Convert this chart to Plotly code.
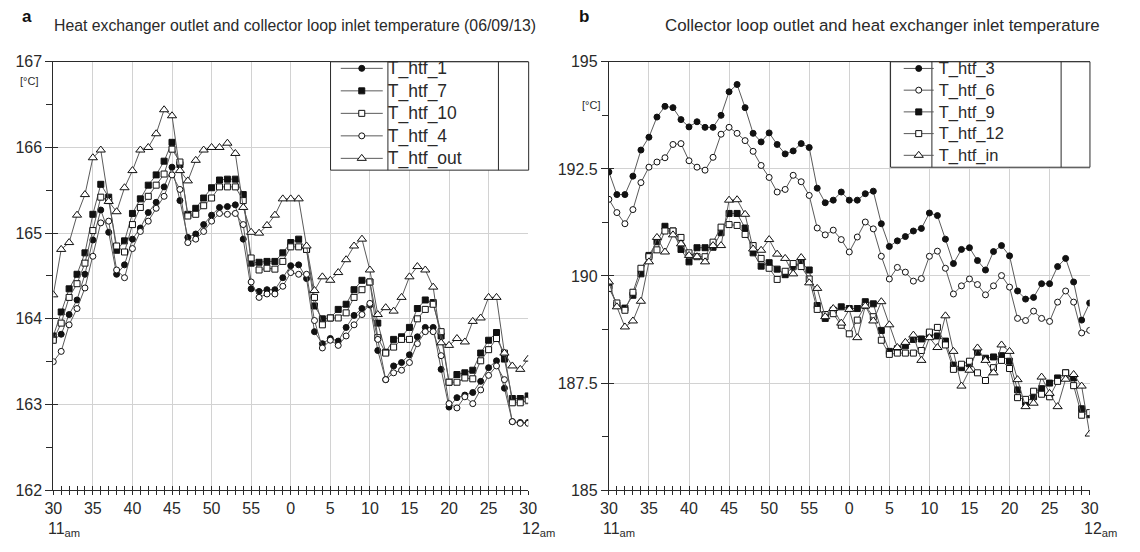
import plotly.graph_objects as go

# ---------------- data ----------------
minutes = list(range(61))  # 11:30 ... 12:30, one point per minute
tick_vals = list(range(0, 61, 5))
tick_text = ["30", "35", "40", "45", "50", "55", "0", "5", "10", "15", "20", "25", "30"]

# Panel a: heat exchanger outlet / collector loop inlet
a_htf_1 = [163.75, 163.82, 164.05, 164.22, 164.52, 164.92, 165.27, 165.01, 164.52, 164.63,
           164.93, 165.06, 165.24, 165.36, 165.54, 165.77, 165.38, 164.95, 164.99, 165.10,
           165.21, 165.30, 165.31, 165.33, 164.93, 164.35, 164.32, 164.34, 164.34, 164.48,
           164.62, 164.63, 164.47, 163.85, 163.71, 163.77, 163.74, 163.90, 164.04, 164.12,
           164.16, 163.63, 163.29, 163.45, 163.49, 163.58, 163.79, 163.90, 163.90, 163.41,
           162.97, 163.08, 163.11, 163.14, 163.27, 163.43, 163.51, 163.19, 162.80, 162.79,
           162.79]
a_htf_7 = [163.80, 164.08, 164.35, 164.52, 164.77, 165.22, 165.57, 165.42, 164.80, 164.91,
           165.23, 165.40, 165.56, 165.68, 165.84, 166.06, 165.80, 165.22, 165.29, 165.41,
           165.53, 165.62, 165.63, 165.63, 165.45, 164.65, 164.66, 164.67, 164.67, 164.77,
           164.89, 164.93, 164.81, 164.15, 164.00, 164.01, 164.11, 164.17, 164.34, 164.45,
           164.43, 163.95, 163.61, 163.76, 163.79, 163.90, 164.12, 164.22, 164.19, 163.80,
           163.26, 163.35, 163.37, 163.40, 163.60, 163.75, 163.84, 163.53, 163.07, 163.07,
           163.10]
a_htf_10 = [163.75, 163.95, 164.25, 164.41, 164.65, 165.03, 165.42, 165.38, 164.85, 164.78,
            165.10, 165.30, 165.43, 165.56, 165.69, 165.98, 165.83, 165.20, 165.22, 165.32,
            165.41, 165.54, 165.54, 165.54, 165.38, 164.71, 164.57, 164.59, 164.58, 164.67,
            164.84, 164.84, 164.81, 164.25, 163.93, 164.01, 164.01, 164.07, 164.25, 164.34,
            164.43, 163.78, 163.60, 163.67, 163.76, 163.76, 164.00, 164.11, 164.17, 163.85,
            163.26, 163.26, 163.31, 163.30, 163.51, 163.64, 163.77, 163.60, 163.02, 163.02,
            163.05]
a_htf_4 = [163.50, 163.62, 163.93, 164.12, 164.36, 164.73, 165.12, 165.14, 164.57, 164.48,
           164.82, 165.02, 165.14, 165.29, 165.43, 165.68, 165.51, 164.89, 164.93, 165.02,
           165.14, 165.23, 165.22, 165.23, 165.10, 164.43, 164.25, 164.29, 164.29, 164.38,
           164.54, 164.52, 164.52, 163.98, 163.66, 163.75, 163.69, 163.80, 163.93, 164.05,
           164.18, 163.76, 163.29, 163.37, 163.40, 163.49, 163.71, 163.85, 163.85, 163.57,
           163.01, 162.96, 163.09, 163.01, 163.17, 163.34, 163.45, 163.29, 162.80, 162.78,
           162.78]
a_htf_out = [164.28, 164.81, 164.89, 165.21, 165.45, 165.88, 165.97, 165.37, 165.25, 165.53,
             165.73, 165.97, 166.00, 166.16, 166.44, 166.37, 165.73, 165.61, 165.85, 165.97,
             166.00, 166.00, 166.05, 165.93, 165.30, 165.01, 165.00, 165.09, 165.21, 165.40,
             165.40, 165.40, 164.85, 164.33, 164.49, 164.45, 164.54, 164.69, 164.85, 164.93,
             164.57, 164.05, 164.13, 164.09, 164.25, 164.49, 164.61, 164.57, 164.37, 163.72,
             163.69, 163.77, 163.73, 163.97, 164.01, 164.25, 164.25, 163.60, 163.45, 163.41,
             163.53]

# Panel b: collector loop outlet / heat exchanger inlet
b_htf_3 = [192.43, 191.90, 191.90, 192.33, 192.94, 193.24, 193.71, 193.96, 193.93, 193.65,
           193.48, 193.60, 193.47, 193.47, 193.75, 194.30, 194.47, 193.93, 193.33, 193.13,
           193.34, 193.07, 192.85, 192.92, 193.09, 193.00, 192.05, 191.71, 191.77, 191.96,
           191.77, 191.77, 191.92, 191.98, 191.22, 190.69, 190.82, 190.92, 191.05, 191.11,
           191.47, 191.41, 190.86, 190.29, 190.62, 190.66, 190.36, 190.14, 190.57, 190.71,
           190.47, 189.65, 189.46, 189.50, 189.82, 189.82, 190.22, 190.41, 189.86, 188.97,
           189.37]
b_htf_6 = [191.79, 191.48, 191.22, 191.55, 192.18, 192.54, 192.66, 192.76, 193.07, 193.09,
           192.69, 192.54, 192.47, 192.77, 193.31, 193.47, 193.33, 193.16, 192.91, 192.58,
           192.30, 191.96, 192.02, 192.35, 192.20, 191.88, 191.12, 190.96, 191.07, 190.85,
           190.56, 190.91, 191.26, 191.10, 190.46, 189.93, 190.20, 190.09, 189.88, 189.94,
           190.46, 190.58, 190.18, 189.58, 189.77, 189.93, 189.80, 189.56, 189.77, 190.01,
           189.74, 189.01, 188.96, 189.18, 189.01, 188.94, 189.39, 189.65, 189.39, 188.67,
           188.73]
b_htf_9 = [189.77, 189.32, 189.25, 189.55, 190.05, 190.48, 190.80, 191.16, 191.05, 190.62,
           190.33, 190.66, 190.66, 190.67, 191.01, 191.46, 191.46, 191.12, 190.54, 190.23,
           190.31, 190.16, 190.03, 190.22, 190.31, 190.14, 189.31, 189.01, 189.20, 189.28,
           189.24, 189.24, 189.40, 189.35, 188.73, 188.24, 188.30, 188.37, 188.52, 188.53,
           188.65, 188.60, 188.48, 187.92, 187.86, 187.95, 188.22, 188.08, 188.11, 188.14,
           188.01, 187.34, 187.05, 187.18, 187.37, 187.50, 187.62, 187.74, 187.62, 186.90,
           186.76]
b_htf_12 = [189.71, 189.37, 189.20, 189.62, 190.18, 190.45, 190.61, 191.05, 191.05, 190.90,
            190.54, 190.45, 190.45, 190.79, 191.14, 191.20, 191.18, 190.97, 190.71, 190.41,
            190.18, 189.92, 190.11, 190.29, 190.22, 189.93, 189.22, 189.10, 189.12, 188.85,
            188.65, 188.97, 189.31, 189.05, 188.50, 188.17, 188.20, 188.20, 188.20, 188.26,
            188.69, 188.80, 188.39, 187.82, 187.94, 188.01, 187.74, 187.56, 187.86, 188.03,
            187.84, 187.16, 187.12, 187.31, 187.24, 187.18, 187.54, 187.74, 187.44, 186.75,
            186.81]
b_htf_in = [189.86, 189.28, 188.81, 188.95, 189.41, 190.33, 190.90, 190.56, 190.96, 190.75,
            190.48, 190.45, 190.33, 190.71, 190.71, 191.77, 191.78, 191.44, 190.63, 190.60,
            190.85, 190.51, 190.41, 190.05, 190.43, 189.84, 189.71, 189.05, 189.24, 188.90,
            189.22, 188.56, 189.30, 188.95, 189.40, 188.86, 188.33, 188.45, 188.62, 188.03,
            188.56, 188.33, 189.07, 188.24, 187.43, 187.80, 188.32, 188.03, 187.74, 188.39,
            188.24, 187.58, 186.95, 187.03, 187.64, 187.26, 186.95, 187.59, 187.70, 187.43,
            186.31]

# ---------------- layout helpers ----------------
W, H = 1140, 552
FONT = "Arial, Liberation Sans, sans-serif"
INK = "#2a2a2a"
GRID = "#d2d2d2"
LINE_C = "#5a5a5a"


def fx(x):
    return x / W


def fy(y):
    return 1 - y / H


A_X = (45, 527.5)
B_X = (609.5, 1098)
P_Y = (55.5, 497.5)

fig = go.Figure()


def add_series(name, y, symbol, filled, size, xa, ya, legend, label_px):
    fig.add_trace(go.Scatter(
        x=minutes, y=y, mode="lines+markers",
        name='<span style="font-size:%.1fpx">%s</span>' % (label_px, name),
        xaxis=xa, yaxis=ya, legend=legend,
        line=dict(color=LINE_C, width=1),
        marker=dict(symbol=symbol, size=size,
                    color="#111111" if filled else "white",
                    line=dict(color="#111111", width=1)),
    ))


add_series("T_htf_1", a_htf_1, "circle", True, 6, "x", "y", "legend", 17.5)
add_series("T_htf_7", a_htf_7, "square", True, 6, "x", "y", "legend", 17.5)
add_series("T_htf_10", a_htf_10, "square", False, 6, "x", "y", "legend", 17.5)
add_series("T_htf_4", a_htf_4, "circle", False, 6, "x", "y", "legend", 17.5)
add_series("T_htf_out", a_htf_out, "triangle-up", False, 8, "x", "y", "legend", 17.5)

add_series("T_htf_3", b_htf_3, "circle", True, 6, "x2", "y2", "legend2", 16.5)
add_series("T_htf_6", b_htf_6, "circle", False, 6, "x2", "y2", "legend2", 16.5)
add_series("T_htf_9", b_htf_9, "square", True, 6, "x2", "y2", "legend2", 16.5)
add_series("T_htf_12", b_htf_12, "square", False, 6, "x2", "y2", "legend2", 16.5)
add_series("T_htf_in", b_htf_in, "triangle-up", False, 8, "x2", "y2", "legend2", 16.5)

# empty traces so the overlay (inner tick) axes are drawn
fig.add_trace(go.Scatter(x=[], y=[], xaxis="x3", yaxis="y3", showlegend=False))
fig.add_trace(go.Scatter(x=[], y=[], xaxis="x4", yaxis="y4", showlegend=False))

tickfont = dict(family=FONT, size=16, color=INK)


def xaxis_main(dom, anchor):
    return dict(domain=[fx(dom[0]), fx(dom[1])], anchor=anchor, range=[0, 60],
                tickmode="array", tickvals=tick_vals, ticktext=tick_text,
                ticks="outside", ticklen=4, tickcolor=INK, tickwidth=1,
                minor=dict(dtick=1, tick0=0, ticks="outside", ticklen=4,
                           tickcolor=INK, tickwidth=1, showgrid=False),
                showline=True, linecolor=INK, linewidth=1, mirror=True,
                showgrid=True, gridcolor=GRID, gridwidth=1, zeroline=False,
                tickfont=tickfont, fixedrange=True)


def xaxis_inner(over, anchor):
    return dict(overlaying=over, anchor=anchor, range=[0, 60],
                tickmode="array", tickvals=tick_vals, ticks="inside", ticklen=4,
                tickcolor=INK, tickwidth=1,
                minor=dict(dtick=1, tick0=0, ticks="inside", ticklen=4,
                           tickcolor=INK, tickwidth=1, showgrid=False),
                showticklabels=False, showgrid=False, showline=False, zeroline=False)


def yaxis_main(anchor, rng, minor_dtick, tvals, ttext):
    return dict(domain=[fy(P_Y[1]), fy(P_Y[0])], anchor=anchor, range=rng,
                tickmode="array", tickvals=tvals, ticktext=ttext,
                ticks="outside", ticklen=7, tickcolor=INK, tickwidth=1,
                minor=dict(dtick=minor_dtick, tick0=rng[0], ticks="outside", ticklen=6,
                           tickcolor=INK, tickwidth=1, showgrid=False),
                showline=True, linecolor=INK, linewidth=1, mirror=False,
                showgrid=True, gridcolor=GRID, gridwidth=1, zeroline=False,
                tickfont=tickfont, fixedrange=True)


def yaxis_inner(over, anchor, rng, tvals):
    return dict(overlaying=over, anchor=anchor, range=rng, side="left",
                tickmode="array", tickvals=tvals, ticks="inside", ticklen=5,
                tickcolor=INK, tickwidth=1, showticklabels=False,
                showgrid=False, showline=False, zeroline=False)


a_ticks = [162, 163, 164, 165, 166, 167]
b_ticks = [185, 187.5, 190, 192.5, 195]
b_text = ["185", "187.5", "190", "192.5", "195"]

fig.update_layout(
    width=W, height=H,
    margin=dict(l=0, r=0, t=0, b=0),
    paper_bgcolor="white", plot_bgcolor="white",
    font=dict(family=FONT, color=INK),
    xaxis=xaxis_main(A_X, "y"),
    yaxis=yaxis_main("x", [162, 167], 0.5, a_ticks, [str(v) for v in a_ticks]),
    xaxis2=xaxis_main(B_X, "y2"),
    yaxis2=yaxis_main("x2", [185, 195], 1.25, b_ticks, b_text),
    xaxis3=xaxis_inner("x", "y"),
    yaxis3=yaxis_inner("y", "x", [162, 167], a_ticks),
    xaxis4=xaxis_inner("x2", "y2"),
    yaxis4=yaxis_inner("y2", "x2", [185, 195], b_ticks),
    legend=dict(x=fx(332), y=fy(45.5), xanchor="left", yanchor="top",
                bgcolor="rgba(0,0,0,0)", borderwidth=0, itemwidth=42,
                font=dict(family=FONT, size=15, color=INK), tracegroupgap=0,
                traceorder="normal"),
    legend2=dict(x=fx(904), y=fy(46), xanchor="left", yanchor="top",
                 bgcolor="rgba(0,0,0,0)", borderwidth=0, itemwidth=30,
                 font=dict(family=FONT, size=14.4, color=INK), tracegroupgap=0,
                 traceorder="normal"),
    showlegend=True,
)

# legend frames (table-like boxes)
shapes = []
for (x0, xs, xi, x1, y1) in [(326.7, 385, 497.3, 528, 167.3), (895.7, 937.7, 1069, 1098.3, 164.3)]:
    shapes.append(dict(type="rect", xref="paper", yref="paper",
                       x0=fx(x0), x1=fx(x1), y0=fy(y1), y1=fy(P_Y[0]),
                       fillcolor="white", line=dict(color=INK, width=1), layer="above"))
    for xv in (xs, xi):
        shapes.append(dict(type="line", xref="paper", yref="paper",
                           x0=fx(xv), x1=fx(xv), y0=fy(y1), y1=fy(P_Y[0]),
                           line=dict(color=INK, width=1), layer="above"))
fig.update_layout(shapes=shapes)

ann = []


def text(x, y, s, size, xanchor="left", bold=False, color=INK):
    ann.append(dict(x=fx(x), y=fy(y), xref="paper", yref="paper", text=("<b>%s</b>" % s) if bold else s,
                    showarrow=False, xanchor=xanchor, yanchor="middle",
                    font=dict(family=FONT, size=size, color=color)))


text(11, 9, "a", 17, bold=True, color="#111")
text(44, 18, "Heat exchanger outlet and collector loop inlet temperature (06/09/13)", 15.8)
text(577, 9, "b", 17, bold=True, color="#111")
text(664, 18, "Collector loop outlet and heat exchanger inlet temperature", 16.9)
text(20, 75, "[°C]", 11, xanchor="center")
text(591, 100, "[°C]", 11, xanchor="center")
text(38, 538, "11<sub>am</sub>", 16)
text(519, 538, "12<sub>am</sub>", 16)
text(602, 538, "11<sub>am</sub>", 16)
text(1090, 538, "12<sub>am</sub>", 16)
fig.update_layout(annotations=ann)

fig.write_html("out.html")
